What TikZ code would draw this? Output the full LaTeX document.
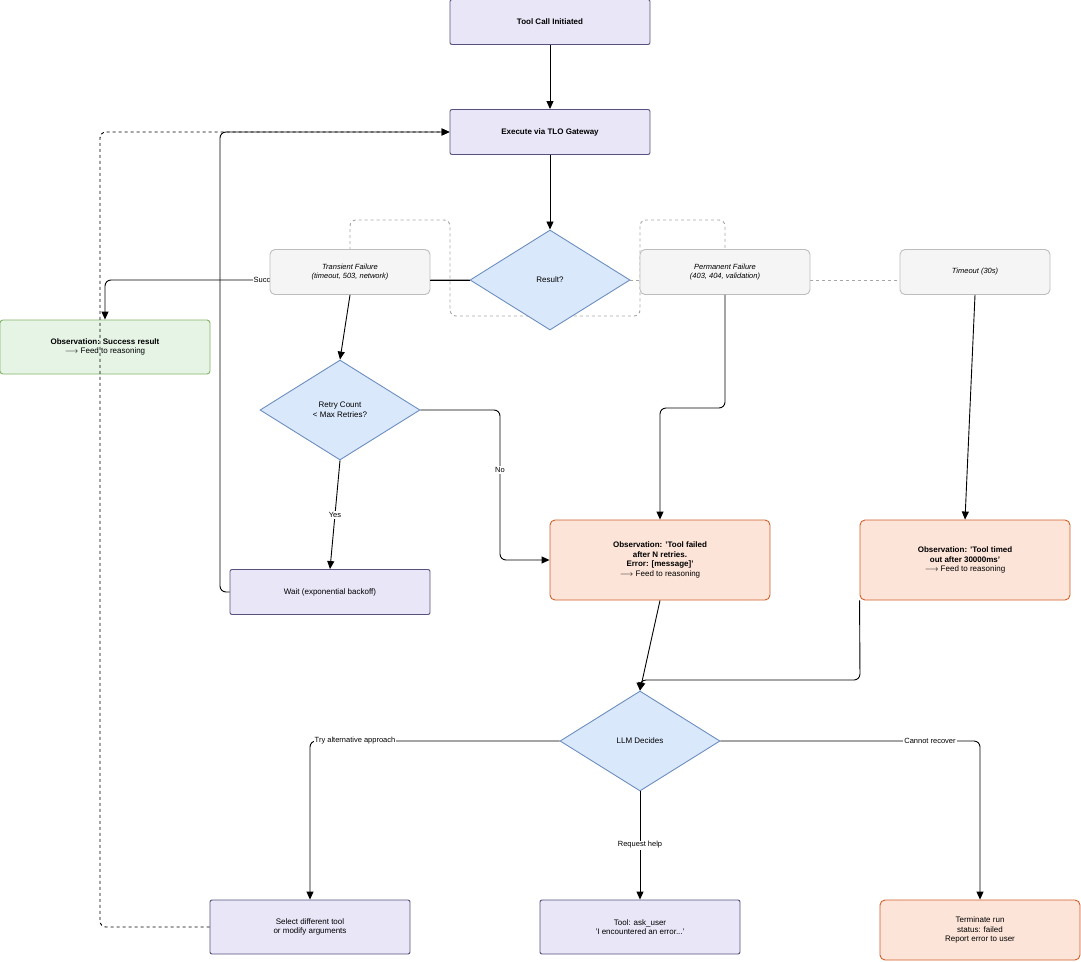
\documentclass[tikz,border=0pt]{standalone}
\usepackage{fontspec}
\setmainfont{Liberation Sans}
\usetikzlibrary{positioning,shapes.geometric,arrows.meta}
\definecolor{lavfill}{HTML}{E8E6F7}
\definecolor{lavdraw}{HTML}{56517E}
\definecolor{bluefill}{HTML}{DAE8FC}
\definecolor{bluedraw}{HTML}{6C8EBF}
\definecolor{grnfill}{HTML}{E6F4E6}
\definecolor{grndraw}{HTML}{82B366}
\definecolor{orfill}{HTML}{FCE4D8}
\definecolor{ordraw}{HTML}{D0602A}
\definecolor{gryfill}{HTML}{F5F5F5}
\definecolor{grydraw}{HTML}{BDBDBD}
\begin{document}
\begin{tikzpicture}[x=1pt,y=-1pt,line width=0.9pt,font=\fontsize{8}{9.6}\selectfont,
        task/.style={rectangle,draw=lavdraw,fill=lavfill,rounded corners=2pt,align=center,minimum width=200pt,minimum height=45pt},
        decide/.style={diamond,aspect=1.6,draw=bluedraw,fill=bluefill,align=center,minimum width=160pt,minimum height=100pt,inner sep=0pt},
        obs/.style={rectangle,draw=ordraw,fill=orfill,rounded corners=5pt,align=center,minimum height=80pt},
        good/.style={rectangle,draw=grndraw,fill=grnfill,rounded corners=3pt,align=center,minimum width=210pt,minimum height=54pt},
        kind/.style={rectangle,draw=grydraw,fill=gryfill,rounded corners=5pt,align=center,minimum height=45pt,font=\fontsize{7.5}{9}\selectfont\itshape},
        flow/.style={draw,-{Triangle[length=8pt,width=7pt]},rounded corners=6pt},
        tag/.style={fill=white,inner sep=1pt,font=\fontsize{7.5}{9}\selectfont}]
    \useasboundingbox (0,0) rectangle (1081,961);

    % dashed helper outlines
    \draw[gray!70,dashed,rounded corners=6pt] (350,250) -- (350,220) -- (450,220) -- (450,316) -- (640,316) -- (640,220) -- (725,220) -- (725,250);
    \draw[gray!70,dashed] (630,280) -- (975,280) -- (975,268);

    \node[task] (init) at (550,22) {\textbf{Tool Call Initiated}};
    \node[task] (exec) at (550,132) {\textbf{Execute via TLO Gateway}};
    \node[decide] (result) at (550,280) {Result?};
    \node[good] (success) at (105,347) {\textbf{Observation: Success result}\\$\longrightarrow$ Feed to reasoning};

    \draw[flow] (result.west) -- (105,280) -- (success.north);
    \node[tag] at (262,280) {Succ};

    \node[kind,minimum width=160pt] (trans) at (350,272) {Transient Failure\\(timeout, 503, network)};
    \node[kind,minimum width=170pt] (perm) at (725,272) {Permanent Failure\\(403, 404, validation)};
    \node[kind,minimum width=150pt] (tout) at (975,272) {Timeout (30s)};

    \node[decide] (retry) at (340,410) {Retry Count\\< Max Retries?};
    \node[task] (wait) at (330,592) {Wait (exponential backoff)};
    \node[obs,minimum width=220pt] (failed) at (660,560) {\textbf{Observation: 'Tool failed}\\\textbf{after N retries.}\\\textbf{Error: [message]'}\\$\longrightarrow$ Feed to reasoning};
    \node[obs,minimum width=210pt] (timed) at (965,560) {\textbf{Observation: 'Tool timed}\\\textbf{out after 30000ms'}\\$\longrightarrow$ Feed to reasoning};
    \node[decide] (llm) at (640,741) {LLM Decides};
    \node[task,minimum height=54pt] (other) at (310,927) {Select different tool\\or modify arguments};
    \node[task,minimum height=54pt] (ask) at (640,927) {Tool: ask\_user\\'I encountered an error...'};
    \node[obs,minimum width=200pt,minimum height=60pt] (stop) at (980,930) {Terminate run\\status: failed\\Report error to user};

    \draw[flow] (init) -- (exec);
    \draw[flow] (exec) -- (result);
    \draw (trans.east |- result.west) -- (result.west);
    \draw[flow] (trans.south) -- (retry.north);
    \draw[flow] (perm.south) -- (725,408) -- (660,408) -- (failed.north);
    \draw[flow] (tout.south) -- (timed.north);
    \draw[flow] (retry.east) -- (500,410) -- (500,560) -- (failed.west);
    \node[tag] at (500,470) {No};
    \draw[flow] (retry.south) -- (wait.north);
    \node[tag] at (335,515) {Yes};
    \draw[flow] (wait.west) -- (220,592) -- (220,132) -- (exec.west);
    \draw[flow] (failed.south) -- (llm.north);
    \draw[flow] (timed.south west) -- (860,680) -- (640,680) -- (llm.north);
    \draw[flow] (llm.west) -- (310,741) -- (other.north);
    \node[tag] at (355,741) {Try alternative approach};
    \draw[flow] (llm.south) -- (ask.north);
    \node[tag] at (640,845) {Request help};
    \draw[flow] (llm.east) -- (980,741) -- (stop.north);
    \node[tag] at (930,741) {Cannot recover};
    \draw[flow,dashed] (other.west) -- (100,927) -- (100,132) -- (exec.west);
\end{tikzpicture}
\end{document}
